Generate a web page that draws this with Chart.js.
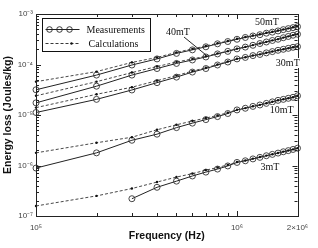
<!DOCTYPE html>
<html><head><meta charset="utf-8">
<script src="https://cdn.jsdelivr.net/npm/chart.js@4/dist/chart.umd.min.js"></script>
<style>html,body{margin:0;padding:0;background:#fff}#wrap{width:318px;height:248px}</style>
</head><body><div id="wrap"><canvas id="c" width="318" height="248"></canvas></div>
<script>
const freqs = [1e5,2e5,3e5,4e5,5e5,6e5,7e5,8e5,9e5,1e6,1.1e6,1.2e6,1.3e6,1.4e6,1.5e6,1.6e6,1.7e6,1.8e6,1.9e6,2e6];
const meas50 = [3.16e-5,6.17e-5,9.77e-5,1.29e-4,1.66e-4,1.95e-4,2.24e-4,2.57e-4,2.85e-4,3.16e-4,3.43e-4,3.67e-4,3.89e-4,4.17e-4,4.37e-4,4.62e-4,4.90e-4,5.13e-4,5.37e-4,5.62e-4];
const calc50 = [4.57e-5,7.24e-5,1.10e-4,1.38e-4,1.74e-4,2.04e-4,2.32e-4,2.63e-4,2.92e-4,3.24e-4,3.50e-4,3.75e-4,3.98e-4,4.24e-4,4.45e-4,4.70e-4,4.96e-4,5.20e-4,5.45e-4,5.70e-4];
const meas40 = [1.74e-5,3.72e-5,6.17e-5,8.32e-5,1.05e-4,1.23e-4,1.41e-4,1.62e-4,1.82e-4,2.04e-4,2.21e-4,2.40e-4,2.60e-4,2.79e-4,2.99e-4,3.16e-4,3.39e-4,3.59e-4,3.80e-4,3.98e-4];
const calc40 = [2.40e-5,4.57e-5,6.92e-5,9.12e-5,1.12e-4,1.29e-4,1.46e-4,1.66e-4,1.84e-4,2.06e-4,2.23e-4,2.42e-4,2.62e-4,2.81e-4,3.01e-4,3.18e-4,3.41e-4,3.61e-4,3.82e-4,4.00e-4];
const meas30 = [1.12e-5,2.04e-5,3.13e-5,4.37e-5,5.62e-5,7.08e-5,8.32e-5,9.77e-5,1.12e-4,1.29e-4,1.38e-4,1.50e-4,1.58e-4,1.70e-4,1.80e-4,1.91e-4,2.00e-4,2.09e-4,2.19e-4,2.26e-4];
const calc30 = [1.40e-5,2.57e-5,3.55e-5,4.79e-5,6.03e-5,7.41e-5,8.61e-5,1.00e-4,1.15e-4,1.30e-4,1.39e-4,1.51e-4,1.59e-4,1.71e-4,1.81e-4,1.92e-4,2.01e-4,2.10e-4,2.20e-4,2.27e-4];
const meas10 = [8.9e-7,1.78e-6,3.16e-6,4.17e-6,5.62e-6,6.9e-6,8.1e-6,9.3e-6,1.07e-5,1.26e-5,1.36e-5,1.48e-5,1.58e-5,1.70e-5,1.82e-5,1.95e-5,2.04e-5,2.14e-5,2.24e-5,2.40e-5];
const calc10 = [1.78e-6,2.82e-6,3.63e-6,5.1e-6,6.4e-6,7.6e-6,8.7e-6,9.8e-6,1.11e-5,1.27e-5,1.37e-5,1.49e-5,1.59e-5,1.71e-5,1.83e-5,1.96e-5,2.05e-5,2.15e-5,2.25e-5,2.41e-5];
const meas3 = [null,null,2.2e-7,3.7e-7,4.9e-7,6.2e-7,7.4e-7,8.5e-7,9.8e-7,1.15e-6,1.24e-6,1.35e-6,1.45e-6,1.56e-6,1.66e-6,1.76e-6,1.87e-6,1.97e-6,2.08e-6,2.2e-6];
const calc3 = [1.58e-7,2.5e-7,3.5e-7,4.7e-7,5.9e-7,6.9e-7,8.1e-7,9.1e-7,1.03e-6,1.17e-6,1.26e-6,1.37e-6,1.47e-6,1.57e-6,1.67e-6,1.77e-6,1.88e-6,1.98e-6,2.09e-6,2.21e-6];

const xTickValues = [1e5, 1e6, 2e6];
const xTickLabels = ['10\u2075', '10\u2076', '2\u00d710\u2076'];
const yTickValues = [1e-7, 1e-6, 1e-5, 1e-4, 1e-3];
const yTickLabels = ['10\u207b\u2077', '10\u207b\u2076', '10\u207b\u2075', '10\u207b\u2074', '10\u207b\u00b3'];
const legendLabels = ['Measurements', 'Calculations'];
const seriesNames = ['50mT', '40mT', '30mT', '10mT', '3mT'];
// label anchors in data coordinates [freq, value]
const labelAnchors = [[1.41e6, 6.95e-4], [5.08e5, 4.4e-4], [1.79e6, 1.07e-4], [1.67e6, 1.26e-5], [1.46e6, 9.3e-7]];
const arrow40 = [[5.45e5, 3.5e-4], [7.0e5, 1.55e-4]];

const pts = arr => freqs.map((f, i) => ({x: f, y: arr[i]}));
const measStyle = {borderColor:'#222', borderWidth:1, pointStyle:'circle', pointRadius:3, pointBorderWidth:0.9, pointBorderColor:'#333', pointBackgroundColor:'rgba(0,0,0,0)', clip:false, spanGaps:false};
const calcStyle = {borderColor:'#333', borderWidth:0.9, borderDash:[3,2], pointStyle:'circle', pointRadius:1.2, pointBorderWidth:0, pointBackgroundColor:'#111', clip:false};
const measSets = [meas50, meas40, meas30, meas10, meas3];
const calcSets = [calc50, calc40, calc30, calc10, calc3];
const datasets = [];
seriesNames.forEach((n, i) => {
  datasets.push(Object.assign({label: 'Calculations ' + n, data: pts(calcSets[i])}, calcStyle));
  datasets.push(Object.assign({label: 'Measurements ' + n, data: pts(measSets[i])}, measStyle));
});

const frame = {
  id: 'frame',
  afterDraw(chart) {
    const {ctx, chartArea: a, scales: {x, y}} = chart;
    ctx.save();
    ctx.strokeStyle = '#222'; ctx.lineWidth = 1;
    ctx.strokeRect(Math.round(a.left) + 0.5, Math.round(a.top) + 0.5, Math.round(a.right - a.left), Math.round(a.bottom - a.top));
    ctx.beginPath();
    const xMinor = [2e5,3e5,4e5,5e5,6e5,7e5,8e5,9e5];
    xMinor.concat(xTickValues).forEach(v => {
      const px = Math.round(x.getPixelForValue(v)) + 0.5;
      const len = xTickValues.includes(v) ? 5 : 3;
      ctx.moveTo(px, a.bottom); ctx.lineTo(px, a.bottom - len);
      ctx.moveTo(px, a.top); ctx.lineTo(px, a.top + len);
    });
    for (let e = -7; e <= -3; e++) {
      for (let m = 1; m <= 9; m++) {
        const v = m * Math.pow(10, e);
        if (v > 1.0001e-3) break;
        const py = Math.round(y.getPixelForValue(v)) + 0.5;
        const len = m === 1 ? 5 : 3;
        ctx.moveTo(a.left, py); ctx.lineTo(a.left + len, py);
        ctx.moveTo(a.right, py); ctx.lineTo(a.right - len, py);
      }
    }
    ctx.stroke();

    // legend
    const lx = a.left + 6.5, ly = a.top + 4.5, lw = 108, lh = 33;
    ctx.fillStyle = '#fff';
    ctx.fillRect(lx, ly, lw, lh);
    ctx.strokeStyle = '#111';
    ctx.strokeRect(lx, ly, lw, lh);
    ctx.fillStyle = '#111';
    ctx.font = '10px "Liberation Serif", "Times New Roman", serif';
    ctx.textBaseline = 'middle'; ctx.textAlign = 'left';
    const r1 = ly + 11, r2 = ly + 25;
    ctx.strokeStyle = '#222'; ctx.lineWidth = 1;
    ctx.beginPath(); ctx.moveTo(lx + 3, r1); ctx.lineTo(lx + 37, r1); ctx.stroke();
    [lx + 7, lx + 17, lx + 27].forEach(cx => { ctx.beginPath(); ctx.arc(cx, r1, 2.8, 0, Math.PI * 2); ctx.lineWidth = 0.9; ctx.stroke(); });
    ctx.setLineDash([3, 2]);
    ctx.beginPath(); ctx.moveTo(lx + 3, r2); ctx.lineTo(lx + 37, r2); ctx.stroke();
    ctx.setLineDash([]);
    ctx.beginPath(); ctx.arc(lx + 29, r2, 1.2, 0, Math.PI * 2); ctx.fill();
    ctx.fillText(legendLabels[0], lx + 44, r1 + 0.5);
    ctx.fillText(legendLabels[1], lx + 46, r2 + 0.5);

    // series labels
    ctx.textAlign = 'center';
    seriesNames.forEach((n, i) => {
      const [fx, fy] = labelAnchors[i];
      const px = x.getPixelForValue(fx), py = y.getPixelForValue(fy);
      ctx.fillStyle = '#fff';
      const w = ctx.measureText(n).width;
      ctx.fillRect(px - w / 2 - 1, py - 5, w + 2, 10);
      ctx.fillStyle = '#111';
      ctx.fillText(n, px, py);
    });
    ctx.strokeStyle = '#111'; ctx.lineWidth = 0.9;
    ctx.beginPath();
    ctx.moveTo(x.getPixelForValue(arrow40[0][0]), y.getPixelForValue(arrow40[0][1]));
    ctx.lineTo(x.getPixelForValue(arrow40[1][0]), y.getPixelForValue(arrow40[1][1]));
    ctx.stroke();
    ctx.restore();
  }
};

new Chart(document.getElementById('c'), {
  type: 'line',
  data: {datasets},
  options: {
    responsive: false, animation: false, devicePixelRatio: 1,
    layout: {padding: {top: 14, right: 20.5, bottom: 0, left: 0}},
    plugins: {legend: {display: false}, tooltip: {enabled: false}},
    scales: {
      x: {
        type: 'logarithmic', min: 1e5, max: 2e6,
        afterBuildTicks: s => { s.ticks = xTickValues.map(v => ({value: v})); },
        afterFit: s => { s.height = 32; },
        grid: {display: false, drawTicks: false}, border: {display: false},
        ticks: {autoSkip: false, maxRotation: 0, padding: 7, color: '#444',
          font: {family: '"Liberation Sans", Arial, sans-serif', size: 8},
          callback: (v, i) => xTickLabels[i]},
        title: {display: true, text: 'Frequency (Hz)', color: '#111', padding: {top: 0, bottom: 6},
          font: {family: '"Liberation Sans", Arial, sans-serif', size: 10.5, weight: 'bold'}}
      },
      y: {
        type: 'logarithmic', min: 1e-7, max: 1e-3,
        afterBuildTicks: s => { s.ticks = yTickValues.map(v => ({value: v})); },
        afterFit: s => { s.width = 36; },
        grid: {display: false, drawTicks: false}, border: {display: false},
        ticks: {autoSkip: false, padding: 3, color: '#444',
          font: {family: '"Liberation Sans", Arial, sans-serif', size: 8},
          callback: (v, i) => yTickLabels[i]},
        title: {display: true, text: 'Energy loss (Joules/kg)', color: '#111', padding: {top: 2, bottom: 0},
          font: {family: '"Liberation Sans", Arial, sans-serif', size: 10.5, weight: 'bold'}}
      }
    }
  },
  plugins: [frame]
});
</script></body></html>
